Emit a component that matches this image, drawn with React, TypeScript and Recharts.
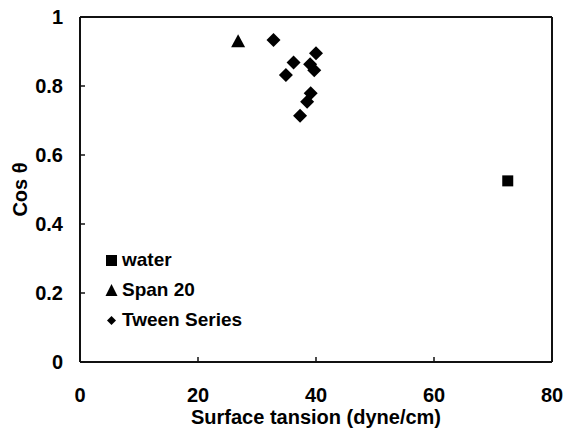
import { Legend, ReferenceLine, Scatter, ScatterChart, XAxis, YAxis } from 'recharts';

const seriesNames = ['water', 'Span 20', 'Tween Series'];
const waterX = [72.5];
const waterY = [0.525];
const spanX = [26.8];
const spanY = [0.93];
const tweenX = [32.8, 36.2, 34.9, 40.0, 39.0, 39.7, 39.1, 38.5, 37.3];
const tweenY = [0.933, 0.868, 0.832, 0.895, 0.863, 0.846, 0.779, 0.754, 0.714];
const xTicks = [0, 20, 40, 60, 80];
const yTicks = [0, 0.2, 0.4, 0.6, 0.8, 1];

const toPoints = (xs: number[], ys: number[]) => xs.map((x, i) => ({ x, y: ys[i] }));

const FONT = '"Liberation Sans", Arial, sans-serif';
const tickStyle = { fill: '#000', fontSize: 20, fontWeight: 'bold', fontFamily: FONT };
const frameLine = { stroke: '#111111', strokeWidth: 2 };

const SquareShape = (p: any) => <rect x={p.cx - 5.5} y={p.cy - 5.5} width={11} height={11} fill="#000" />;
const TriangleShape = (p: any) => (
  <polygon points={`${p.cx},${p.cy - 7} ${p.cx + 7},${p.cy + 6} ${p.cx - 7},${p.cy + 6}`} fill="#000" />
);
const DiamondShape = (p: any) => (
  <polygon points={`${p.cx},${p.cy - 7} ${p.cx + 7},${p.cy} ${p.cx},${p.cy + 7} ${p.cx - 7},${p.cy}`} fill="#000" />
);

const legendIcon = (type: string) => {
  if (type === 'square') return <rect x={2} y={2} width={11} height={11} fill="#000" />;
  if (type === 'triangle') return <polygon points="7.5,1 13.5,13 1.5,13" fill="#000" />;
  return <polygon points="7.5,3 12,7.5 7.5,12 3,7.5" fill="#000" />;
};

const LegendContent = ({ payload }: any) => {
  const items = [...(payload || [])].sort(
    (a: any, b: any) => seriesNames.indexOf(a.value) - seriesNames.indexOf(b.value)
  );
  return (
    <div style={{ fontFamily: FONT, fontSize: 19, fontWeight: 'bold', color: '#000' }}>
      {items.map((entry: any) => (
        <div key={entry.value} style={{ display: 'flex', alignItems: 'center', height: 30 }}>
          <svg width={15} height={15}>{legendIcon(entry.type)}</svg>
          <span style={{ marginLeft: 3 }}>{entry.value}</span>
        </div>
      ))}
    </div>
  );
};

export default function App() {
  return (
    <div style={{ position: 'absolute', left: 0, top: 0, width: 563, height: 429, background: '#fff' }}>
      <ScatterChart width={563} height={429} margin={{ top: 17, right: 11, bottom: 0, left: 0 }}>
        <XAxis
          type="number"
          dataKey="x"
          domain={[0, 80]}
          ticks={xTicks}
          height={67}
          axisLine={frameLine}
          tickSize={-5}
          tickMargin={31}
          tickLine={{ stroke: '#111111', strokeWidth: 1.5 }}
          tick={tickStyle}
          label={{
            value: 'Surface tansion (dyne/cm)',
            position: 'insideBottom',
            offset: 5,
            style: { fill: '#000', fontSize: 20, fontWeight: 'bold', fontFamily: FONT },
          }}
        />
        <YAxis
          type="number"
          dataKey="y"
          domain={[0, 1]}
          ticks={yTicks}
          width={80}
          axisLine={frameLine}
          tickSize={-5}
          tickMargin={22}
          tickLine={{ stroke: '#111111', strokeWidth: 1.5 }}
          tick={tickStyle}
          label={(props: any) => {
            const vb = props.viewBox || { x: 0, y: 17, height: 345 };
            const cx = vb.x + 20;
            const cy = vb.y + vb.height / 2;
            return (
              <text
                x={cx}
                y={cy}
                transform={`rotate(-90 ${cx} ${cy})`}
                textAnchor="middle"
                dominantBaseline="central"
                style={{ fill: '#000', fontSize: 20, fontWeight: 'bold', fontFamily: FONT }}
              >
                Cos θ
              </text>
            );
          }}
        />
        <ReferenceLine y={1} {...frameLine} />
        <ReferenceLine x={80} {...frameLine} />
        <Scatter name="water" data={toPoints(waterX, waterY)} fill="#000" legendType="square" shape={SquareShape} isAnimationActive={false} />
        <Scatter name="Span 20" data={toPoints(spanX, spanY)} fill="#000" legendType="triangle" shape={TriangleShape} isAnimationActive={false} />
        <Scatter name="Tween Series" data={toPoints(tweenX, tweenY)} fill="#000" legendType="diamond" shape={DiamondShape} isAnimationActive={false} />
        <Legend
          layout="vertical"
          align="center"
          verticalAlign="middle"
          content={<LegendContent />}
          wrapperStyle={{ left: 104, top: 245, width: 200 }}
        />
      </ScatterChart>
    </div>
  );
}
